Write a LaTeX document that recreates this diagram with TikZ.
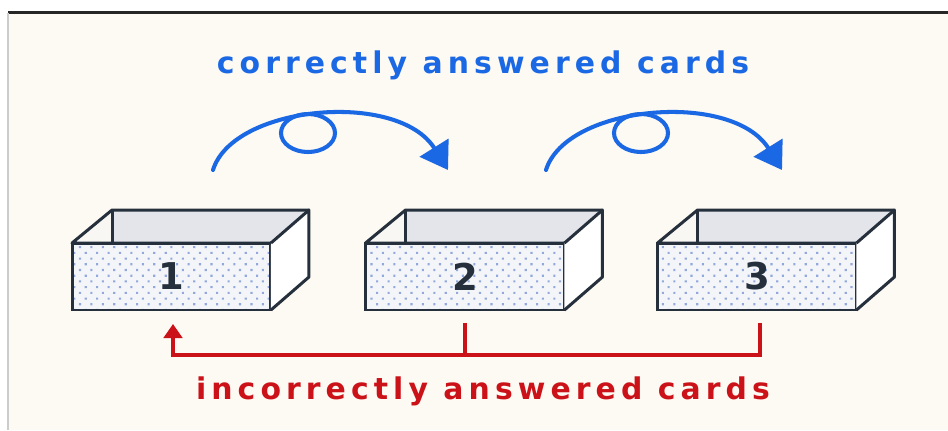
\documentclass[tikz,border=0pt]{standalone}
\usepackage{fontspec}
\usepackage{tikz}
\usetikzlibrary{positioning,calc,arrows.meta,patterns.meta}

\newfontfamily\titlefont[LetterSpace=17]{DejaVu Sans}
\newfontfamily\numfont{DejaVu Sans}

\definecolor{paper}{HTML}{FDF9F3}
\definecolor{boxline}{HTML}{26303C}
\definecolor{facebg}{HTML}{F3F5F9}
\definecolor{dotblue}{HTML}{93A8DA}
\definecolor{backwall}{HTML}{E3E5EB}
\definecolor{innerwall}{HTML}{F8F7F4}
\definecolor{goodblue}{HTML}{1A68E3}
\definecolor{wrongred}{HTML}{CC1219}

\begin{document}
\begin{tikzpicture}[x=0.02cm, y=-0.02cm,
						% Define styles for the boxes, arrows and titles
						box front/.style={rectangle, draw=boxline, line width=1.7pt, outer sep=0pt, inner sep=0pt,
							preaction={fill=facebg}, pattern={Dots[distance=4.6pt, angle=45, radius=0.85pt]}, pattern color=dotblue,
							minimum width=3.98cm, minimum height=1.34cm, text=boxline, font=\numfont\bfseries\fontsize{21}{22}\selectfont},
						box edge/.style={draw=boxline, line width=1.7pt, line join=round},
						right arrow/.style={draw=goodblue, line width=2.3pt, line cap=round, -{Triangle[length=15pt, width=19pt]}},
						right loop/.style={draw=goodblue, line width=2.3pt},
						wrong line/.style={draw=wrongred, line width=2pt},
						good text/.style={anchor=base, text=goodblue, font=\titlefont\bfseries\fontsize{17}{19}\selectfont},
						bad text/.style={anchor=base, text=wrongred, font=\titlefont\bfseries\fontsize{17}{19}\selectfont}
						]
						
						% Page
						\useasboundingbox (0,0) rectangle (948,430);
						\fill[white] (0,0) rectangle (948,430);
						\fill[paper] (8,13) rectangle (948,430);
						\draw[black!85, line width=1.2pt] (8,12.5) -- (948,12.5);
						\draw[black!20, line width=0.8pt] (8,13) -- (8,430);
						
						% Titles
						\node[good text] (good) at (483,73) {correctly answered cards};
						\node[bad text] (bad) at (483,399) {incorrectly answered cards};
						
						% Box 1
						\node[box front] (b1) at (171.5,276.5) {1};
						\fill[backwall] (b1.north west) -- ($(b1.north west)+(40,-33)$) -- ($(b1.north east)+(38,-33)$) -- (b1.north east) -- cycle;
						\fill[innerwall] (b1.north west) -- ($(b1.north west)+(40,-33)$) -- ($(b1.north west)+(40,0)$) -- cycle;
						\filldraw[box edge, fill=white] (b1.north east) -- ($(b1.north east)+(38,-33)$) -- ($(b1.south east)+(38,-33)$) -- (b1.south east);
						\draw[box edge] (b1.north east) -- (b1.north west) -- ($(b1.north west)+(40,-33)$) -- ($(b1.north east)+(38,-33)$);
						\draw[box edge] ($(b1.north west)+(40,-33)$) -- ($(b1.north west)+(40,0)$);
						
						% Box 2
						\node[box front] (b2) at (465,276.5) {2};
						\fill[backwall] (b2.north west) -- ($(b2.north west)+(40,-33)$) -- ($(b2.north east)+(38,-33)$) -- (b2.north east) -- cycle;
						\fill[innerwall] (b2.north west) -- ($(b2.north west)+(40,-33)$) -- ($(b2.north west)+(40,0)$) -- cycle;
						\filldraw[box edge, fill=white] (b2.north east) -- ($(b2.north east)+(38,-33)$) -- ($(b2.south east)+(38,-33)$) -- (b2.south east);
						\draw[box edge] (b2.north east) -- (b2.north west) -- ($(b2.north west)+(40,-33)$) -- ($(b2.north east)+(38,-33)$);
						\draw[box edge] ($(b2.north west)+(40,-33)$) -- ($(b2.north west)+(40,0)$);
						
						% Box 3
						\node[box front] (b3) at (757,276.5) {3};
						\fill[backwall] (b3.north west) -- ($(b3.north west)+(40,-33)$) -- ($(b3.north east)+(38,-33)$) -- (b3.north east) -- cycle;
						\fill[innerwall] (b3.north west) -- ($(b3.north west)+(40,-33)$) -- ($(b3.north west)+(40,0)$) -- cycle;
						\filldraw[box edge, fill=white] (b3.north east) -- ($(b3.north east)+(38,-33)$) -- ($(b3.south east)+(38,-33)$) -- (b3.south east);
						\draw[box edge] (b3.north east) -- (b3.north west) -- ($(b3.north west)+(40,-33)$) -- ($(b3.north east)+(38,-33)$);
						\draw[box edge] ($(b3.north west)+(40,-33)$) -- ($(b3.north west)+(40,0)$);
						
						% --- Correct answers move up one box ---
						\coordinate (s1) at ($(b1.north)+(41.5,-73)$);
						\coordinate (e1) at ($(b2.north)+(-17,-73)$);
						\draw[right arrow] (s1) .. controls +(20,-65) and +(-50,-80) .. (e1);
						\draw[right loop] ($(s1)+(95,-37)$) ellipse [x radius=27, y radius=19];
						
						\coordinate (s2) at ($(b2.north)+(81,-73)$);
						\coordinate (e2) at ($(b3.north)+(25,-73)$);
						\draw[right arrow] (s2) .. controls +(20,-65) and +(-50,-80) .. (e2);
						\draw[right loop] ($(s2)+(95,-37)$) ellipse [x radius=27, y radius=19];
						
						% --- Wrong answers go back to box 1 ---
						\coordinate (w1) at ($(b1.south)+(1.5,14)$);
						\coordinate (w2) at ($(b2.south)+(0,13)$);
						\coordinate (w3) at ($(b3.south)+(3,13)$);
						\coordinate (low) at (0,355);
						\draw[wrong line, -{Triangle[length=8pt, width=10.5pt]}] (w3) -- (w3 |- low) -- (w1 |- low) -- (w1);
						\draw[wrong line] (w2) -- (w2 |- low);
					\end{tikzpicture}
\end{document}
